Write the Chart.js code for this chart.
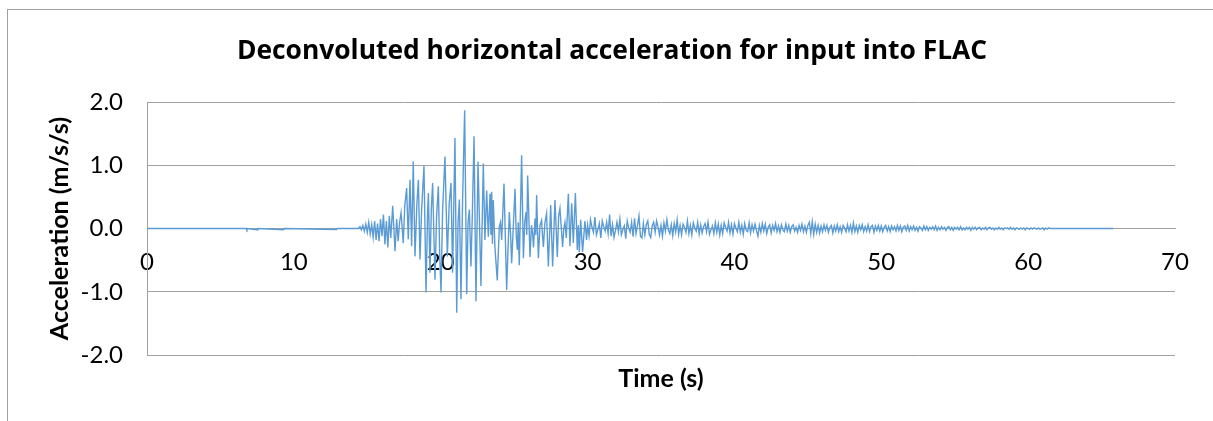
<!DOCTYPE html>
<html>
<head>
<meta charset="utf-8">
<title>Deconvoluted horizontal acceleration</title>
<script src="https://cdn.jsdelivr.net/npm/chart.js@4.4.1/dist/chart.umd.min.js"></script>
<style>
    html, body { margin: 0; padding: 0; background: #ffffff; overflow: hidden; }
    #frame {
        position: absolute; left: 7px; top: 9px;
        width: 1240px; height: 440px;
        border: 1px solid #a0a0a0;
    }
    #wrap { position: absolute; left: 0; top: 0; width: 1213px; height: 421px; }
</style>
</head>
<body>
<div id="frame"></div>
<div id="wrap"><canvas id="chart" width="1213" height="421"></canvas></div>
<script>
// Quiet record before the shaking starts (s, m/s/s)
const preTimes = [0, 6.75, 6.8, 6.85, 7.5, 7.55, 9.3, 9.35, 12.9, 12.95, 14.3];
const preAccel = [0, 0, -0.02, 0, -0.02, 0, -0.02, 0, -0.015, 0, 0];

// Strong motion part, read peak by peak from the plot
const strongTimes = [
    14.4, 14.5, 14.6, 14.7, 14.8, 14.9, 15.0, 15.1, 15.2, 15.3,
    15.4, 15.5, 15.6, 15.7, 15.8, 15.9, 16.0, 16.1, 16.2, 16.3,
    16.4, 16.5, 16.6, 16.73, 16.89, 17.0, 17.1, 17.2, 17.3, 17.45,
    17.55, 17.68, 17.79, 17.91, 18.02, 18.13, 18.25, 18.38, 18.48, 18.59,
    18.7, 18.86, 19.0, 19.1, 19.16, 19.27, 19.36, 19.45, 19.61, 19.72,
    19.84, 19.93, 20.02, 20.13, 20.29, 20.45, 20.58, 20.7, 20.81, 20.97,
    21.09, 21.18, 21.27, 21.38, 21.49, 21.63, 21.77, 21.86, 21.95, 22.06,
    22.15, 22.27, 22.4, 22.54, 22.67, 22.74, 22.9, 23.01, 23.13, 23.24,
    23.36, 23.42, 23.47, 23.52, 23.58, 23.69, 23.85, 23.99, 24.07, 24.15,
    24.31, 24.49, 24.67, 24.76, 24.83, 25.06, 25.14, 25.22, 25.28, 25.35,
    25.51, 25.63, 25.72, 25.81, 25.86, 25.92, 26.08, 26.18, 26.26, 26.32,
    26.42, 26.48, 26.53, 26.65, 26.76, 26.87, 26.93, 26.99, 27.1, 27.21,
    27.33, 27.49, 27.62, 27.78, 27.94, 28.03, 28.12, 28.3, 28.38, 28.46,
    28.55, 28.69, 28.8, 28.92, 29.03, 29.17, 29.3, 29.37, 29.44, 29.53,
    29.66, 29.82, 29.93
];
const strongAccel = [
    0, 0.03, -0.02, 0.05, -0.04, 0.07, -0.06, 0.1, -0.09, 0.06,
    -0.14, 0.12, -0.18, 0.08, -0.2, 0.15, -0.12, 0.22, -0.25, 0.12,
    -0.3, 0.2, -0.15, 0.36, -0.36, 0.15, -0.2, 0.1, 0.25, -0.23,
    0.35, 0.64, -0.17, 0.77, -0.28, 1.06, -0.44, 0.4, 0.77, -0.49,
    0.3, 0.99, -1.01, 0.2, 0.56, -0.7, 0.3, 0.72, -0.81, 0.2,
    0.67, -0.4, -1.01, 0.3, 1.14, -0.44, 0.4, 0.72, -0.7, 1.43,
    -1.33, 0.1, 0.46, -1.12, 0.46, 1.87, -1.04, 0.1, 0.3, -0.6,
    0.2, 1.46, -1.15, 1.06, -0.2, -0.91, 1.03, -0.18, 0.6, -0.13,
    0.55, -0.1, 0.58, -0.24, 0.45, -0.29, -0.82, 0.03, 0.1, -0.18,
    0.71, -0.97, 0.26, -0.1, -0.55, 0.63, -0.1, -0.34, 0.1, -0.58,
    1.16, -0.47, 0.1, 0.26, -0.1, 0.84, -0.45, 0.05, -0.08, -0.3,
    0.16, -0.1, 0.53, -0.47, 0.05, 0.13, -0.1, -0.29, 0.1, 0.24,
    -0.6, 0.37, -0.6, 0.45, -0.45, 0.2, 0.32, -0.29, 0, 0.1,
    -0.15, 0.55, -0.28, 0.4, -0.23, 0.56, -0.34, 0.05, -0.37, 0.14,
    -0.37, 0.12, -0.18
];

// Coda, sampled every 0.1 s from 30.0 s (one row = 1 s)
const tailStart = 30.0;
const tailStep = 0.1;
const tailAccel = [
    0.05, -0.12, 0.14, 0.02, -0.06, 0.18, -0.1, -0.02, 0.08, -0.15,
    0.12, 0.03, -0.04, 0.1, -0.08, 0.22, -0.12, 0.06, -0.14, -0.03,
    0.1, -0.05, 0.15, -0.1, -0.02, 0.04, -0.16, 0.12, 0.01, -0.06,
    0.1, -0.13, 0.16, -0.08, 0.05, 0.2, -0.12, -0.15, 0.08, -0.1,
    0.06, 0.12, -0.09, -0.14, 0.04, 0.1, -0.06, 0.12, 0.02, -0.1,
    0.05, -0.12, 0.09, -0.04, 0.14, -0.02, -0.08, 0.06, -0.11, 0.08,
    -0.05, 0.14, -0.09, 0.05, -0.1, 0.07, 0.02, -0.06, 0.12, -0.08,
    0.05, -0.1, 0.09, 0.01, -0.04, 0.1, -0.09, 0.06, -0.07, 0.03,
    0.08, -0.05, 0.1, -0.09, -0.02, 0.04, -0.08, 0.09, -0.06, 0.07,
    -0.1, 0.05, -0.08, 0.09, 0.02, -0.04, 0.1, -0.07, 0.06, -0.09,
    0.08, 0.01, -0.05, 0.1, -0.06, 0.05, -0.09, 0.08, -0.03, -0.05,
    0.09, -0.07, 0.06, -0.04, 0.07, -0.03, -0.12, 0.05, -0.06, 0.08,
    -0.04, 0.07, -0.08, 0.02, 0.06, -0.07, 0.05, -0.03, 0.08, -0.05,
    0.04, -0.06, 0.06, -0.02, -0.05, 0.07, -0.04, 0.05, -0.06, 0.03,
    0.06, -0.04, 0.02, -0.06, 0.05, -0.03, 0.07, -0.05, 0.04, -0.06,
    0.05, 0.1, -0.08, 0.11, -0.09, 0.07, -0.06, 0.05, -0.07, 0.04,
    -0.05, 0.06, -0.03, 0.05, -0.06, 0.02, 0.05, -0.07, 0.04, -0.04,
    0.06, -0.05, 0.03, -0.06, 0.05, 0.01, -0.05, 0.06, -0.04, 0.05,
    -0.06, 0.09, -0.05, 0.04, -0.06, 0.05, -0.02, 0.06, -0.05, 0.03,
    -0.04, 0.06, -0.05, 0.03, 0.05, -0.06, 0.04, -0.03, 0.05, -0.04,
    0.04, -0.05, 0.02, 0.05, -0.04, 0.03, -0.05, 0.04, -0.02, 0.03,
    -0.04, 0.05, -0.03, 0.04, -0.05, 0.02, 0.04, -0.03, 0.05, -0.04,
    0.03, -0.02, 0.04, -0.03, 0.02, -0.04, 0.03, 0.01, -0.03, 0.04,
    -0.02, 0.03, -0.03, 0.02, -0.01, 0.03, -0.02, 0.04, -0.03, 0.02,
    -0.02, 0.03, -0.01, 0.02, -0.03, 0.02, 0.03, -0.02, 0.02, -0.03,
    0.02, -0.01, 0.02, -0.02, 0.03, -0.02, 0.01, -0.02, 0.02, -0.01,
    0.02, -0.03, 0.02, -0.01, 0.02, -0.02, 0.01, 0.02, -0.02, 0.01,
    -0.01, 0.02, -0.02, 0.01, 0.02, -0.01, 0.01, -0.02, 0.01, -0.01,
    0.02, -0.01, 0.01, -0.02, 0.01, 0, 0.01, -0.01, 0.02, -0.01,
    0.01, -0.02, 0.01, 0, -0.01, 0.01, -0.01, 0.01, -0.02, 0.01,
    0, -0.01, 0.01, -0.01, 0.01, 0, -0.01, 0.01, -0.01, 0,
    0.01, -0.02, 0.01, -0.01, 0.01, 0
];

// Flat end of the record
const endTimes = [62, 65.8];
const endAccel = [0, 0];

const yTicks = [-2, -1, 0, 1, 2];

const points = [];
preTimes.forEach((t, i) => points.push({ x: t, y: preAccel[i] }));
strongTimes.forEach((t, i) => points.push({ x: t, y: strongAccel[i] }));
tailAccel.forEach((a, i) => points.push({ x: tailStart + i * tailStep, y: a }));
endTimes.forEach((t, i) => points.push({ x: t, y: endAccel[i] }));

const gridGray = '#a0a0a0';
const tickFont = { family: 'Lato, sans-serif', size: 24 };
const axisTitleFont = { family: 'Lato, sans-serif', size: 25, weight: 'bold' };

new Chart(document.getElementById('chart'), {
    type: 'line',
    data: {
        datasets: [{
            label: 'Acceleration',
            data: points,
            borderColor: '#5b9bd5',
            borderWidth: 1.4,
            pointRadius: 0,
            tension: 0,
            fill: false
        }]
    },
    options: {
        responsive: false,
        animation: false,
        parsing: false,
        // left padding keeps the title centred on the whole frame
        layout: { padding: { left: 11, right: 0, top: 0, bottom: 0 } },
        plugins: {
            legend: { display: false },
            tooltip: { enabled: false },
            title: {
                display: true,
                text: 'Deconvoluted horizontal acceleration for input into FLAC',
                color: '#000000',
                font: { family: '"Open Sans", sans-serif', size: 26.4, weight: 'bold' },
                padding: { top: 35.2, bottom: 35.2 }
            }
        },
        scales: {
            x: {
                type: 'linear',
                position: { y: 0 },
                min: 0,
                max: 70,
                grid: { display: false, drawTicks: false },
                border: { display: true, color: gridGray, width: 1 },
                ticks: {
                    stepSize: 10,
                    padding: 19,
                    color: '#000000',
                    font: tickFont
                }
            },
            x2: {
                type: 'linear',
                axis: 'x',
                position: 'bottom',
                min: 0,
                max: 70,
                grid: { display: false, drawTicks: false },
                border: { display: false },
                ticks: { display: false },
                title: {
                    display: true,
                    text: 'Time (s)',
                    color: '#000000',
                    font: axisTitleFont,
                    padding: { top: 9, bottom: 27 }
                }
            },
            y: {
                type: 'linear',
                min: -2,
                max: 2,
                afterFit: scale => { scale.width = 136; },
                afterBuildTicks: scale => { scale.ticks = yTicks.map(v => ({ value: v })); },
                grid: { color: gridGray, lineWidth: 1, drawTicks: false },
                border: { display: true, color: gridGray, width: 1 },
                ticks: {
                    padding: 24,
                    color: '#000000',
                    font: tickFont,
                    callback: v => v.toFixed(1)
                },
                title: {
                    display: true,
                    text: 'Acceleration (m/s/s)',
                    color: '#000000',
                    font: axisTitleFont,
                    padding: { top: 34, bottom: 0 }
                }
            },
            // empty right axis, only reserves the margin right of the plot
            yRight: {
                type: 'linear',
                axis: 'y',
                position: 'right',
                min: -2,
                max: 2,
                afterFit: scale => { scale.width = 38; },
                grid: { display: false, drawTicks: false },
                border: { display: false },
                ticks: { display: false }
            }
        }
    }
});
</script>
</body>
</html>
